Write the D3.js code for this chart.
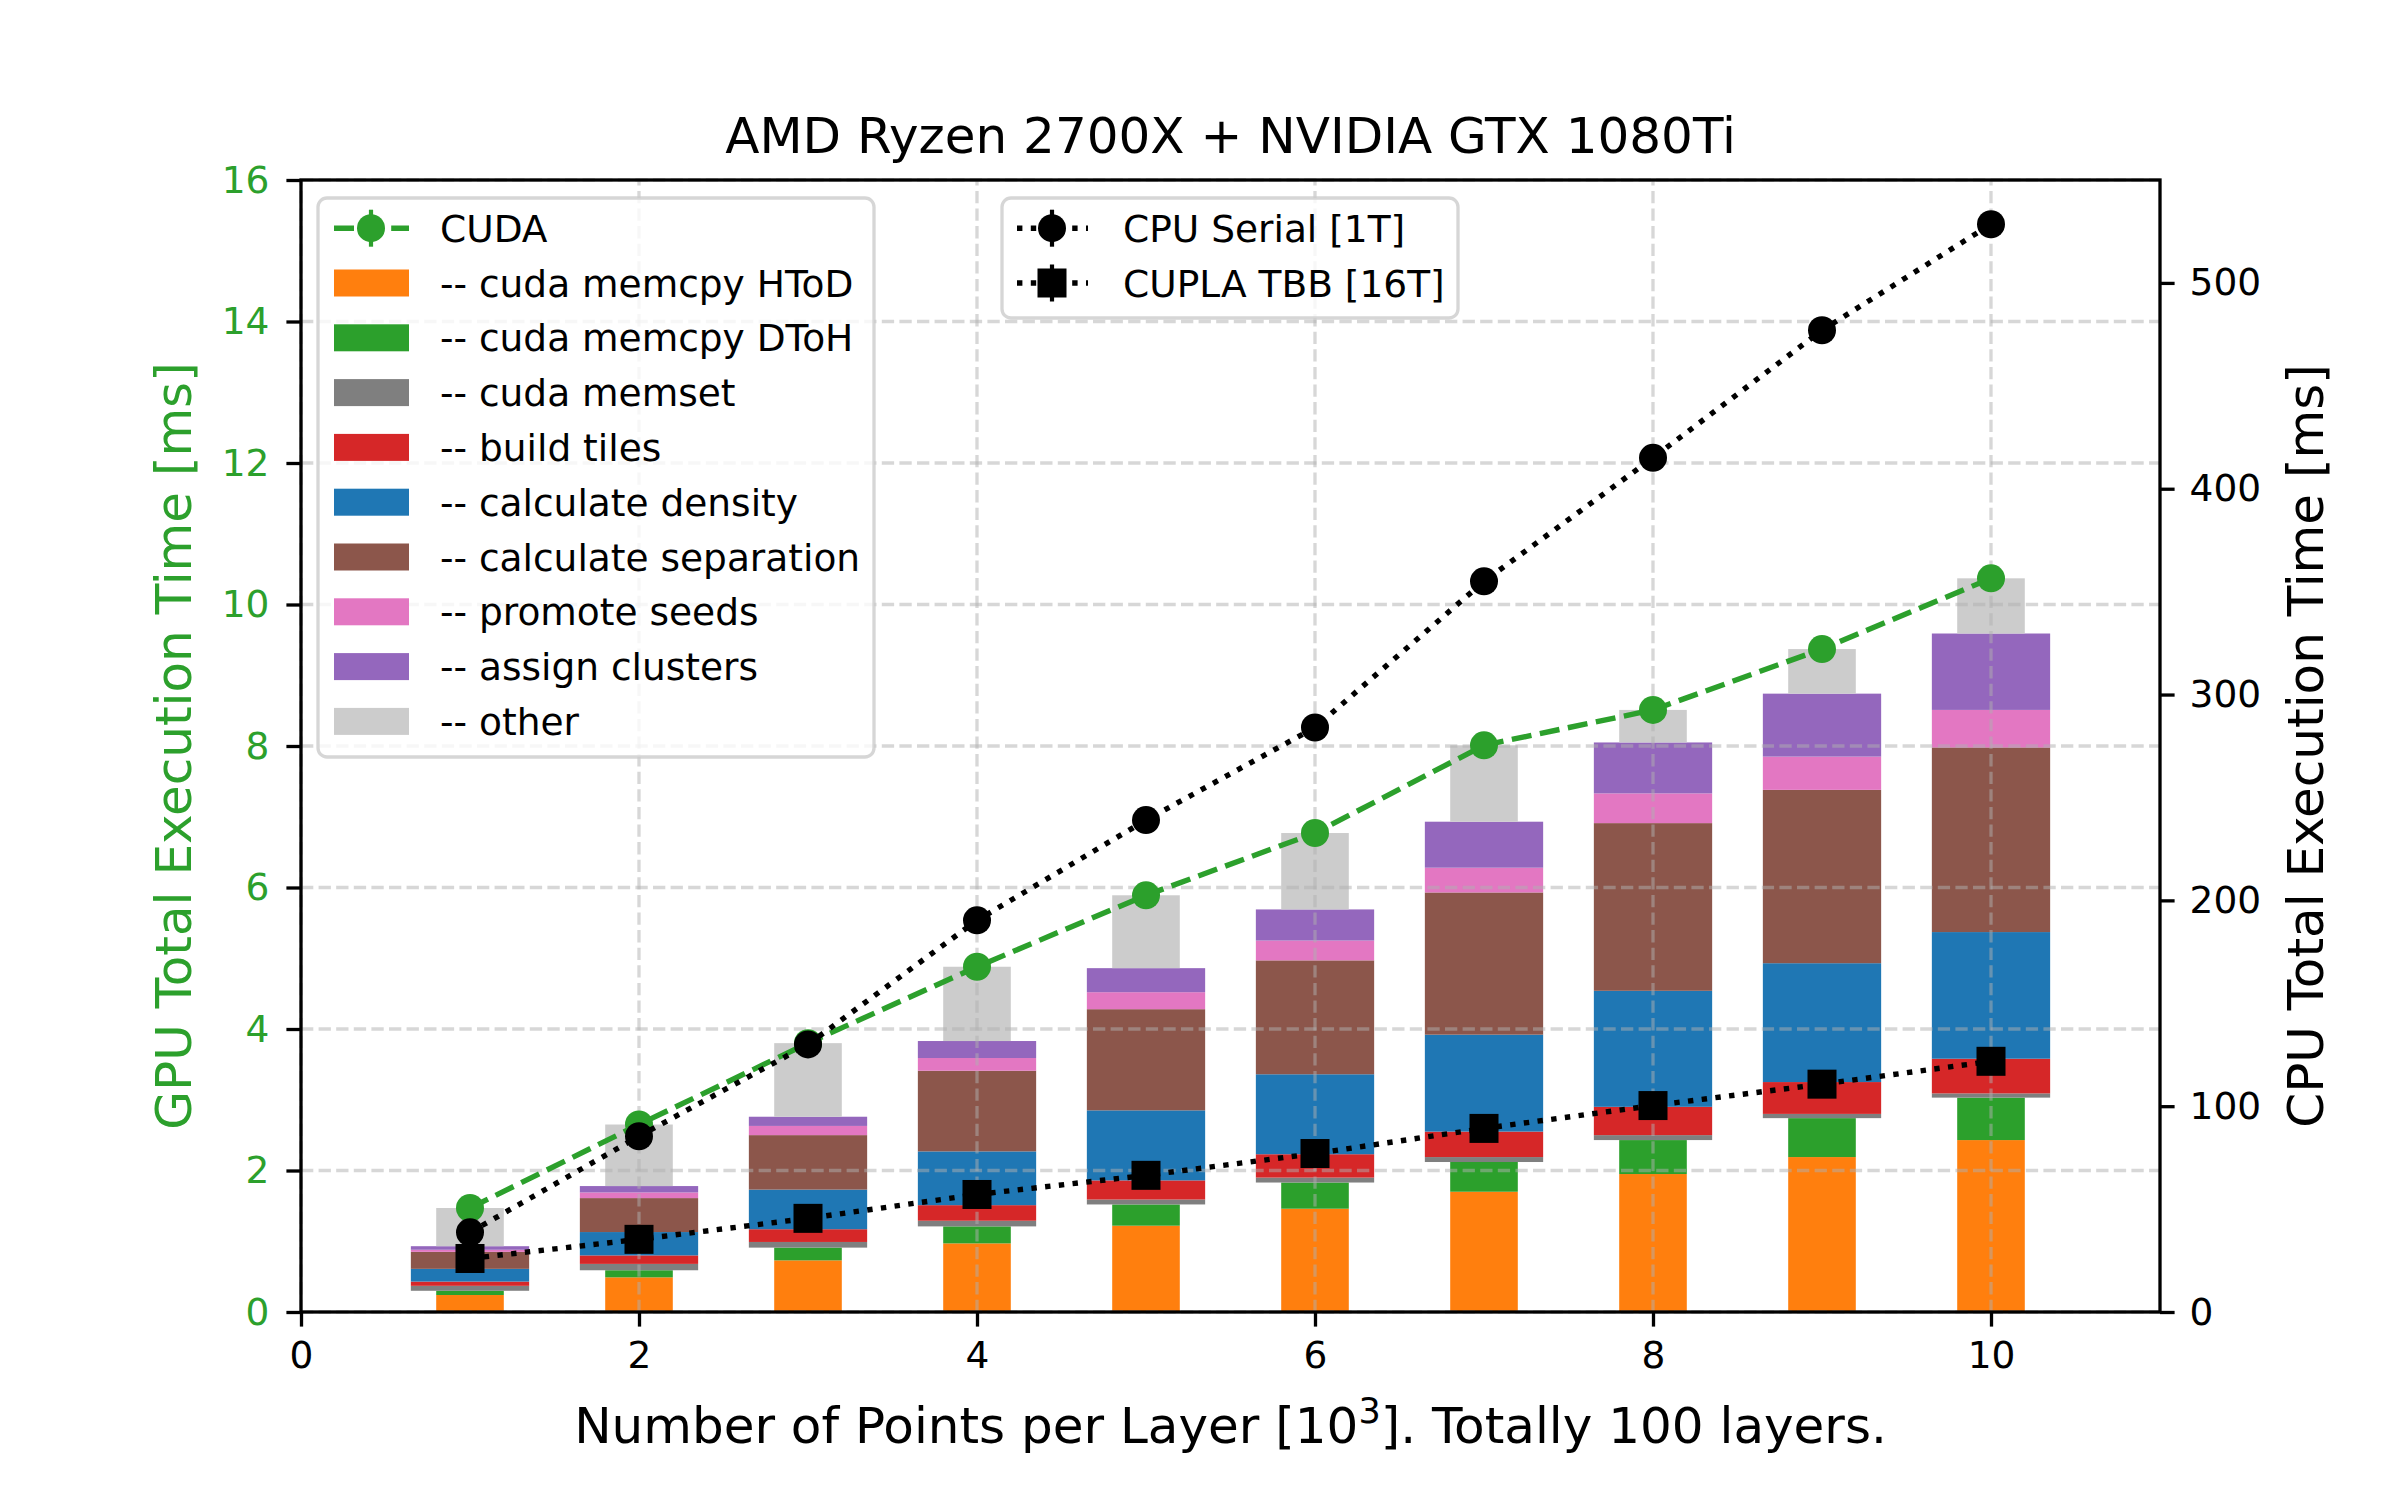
<!DOCTYPE html>
<html>
<head>
<meta charset="utf-8">
<script src="https://cdn.jsdelivr.net/npm/d3@7"></script>
<style>
  html, body { margin: 0; padding: 0; background: #fff; }
  svg text { font-family: "DejaVu Sans", sans-serif; }
</style>
</head>
<body>
<svg id="chart" width="2400" height="1500"></svg>
<script>
// ---------------- data ----------------
const points = [1, 2, 3, 4, 5, 6, 7, 8, 9, 10];
const htod = [0.24, 0.49, 0.73, 0.97, 1.22, 1.46, 1.70, 1.95, 2.19, 2.43];
const dtoh = [0.06, 0.10, 0.18, 0.24, 0.30, 0.37, 0.42, 0.48, 0.55, 0.60];
const memset = [0.07, 0.09, 0.08, 0.08, 0.07, 0.07, 0.07, 0.07, 0.06, 0.06];
const buildTiles = [0.06, 0.12, 0.18, 0.22, 0.27, 0.33, 0.36, 0.40, 0.45, 0.49];
const calcDensity = [0.18, 0.33, 0.56, 0.76, 0.99, 1.13, 1.37, 1.64, 1.68, 1.79];
const calcSeparation = [0.24, 0.48, 0.77, 1.14, 1.43, 1.61, 2.01, 2.37, 2.45, 2.61];
const promoteSeeds = [0.03, 0.08, 0.13, 0.18, 0.24, 0.28, 0.35, 0.42, 0.47, 0.53];
const assignClusters = [0.05, 0.09, 0.13, 0.24, 0.34, 0.44, 0.65, 0.72, 0.89, 1.08];
const other = [0.54, 0.87, 1.04, 1.05, 1.03, 1.08, 1.08, 0.46, 0.63, 0.78];
const cudaTotal = [1.47, 2.65, 3.80, 4.88, 5.89, 6.77, 8.01, 8.51, 9.37, 10.37];
const cpuSerial = [38.7, 85.4, 130, 190.3, 239, 284, 355, 415, 477, 528.5];
const cuplaTbb = [26, 35.3, 45.5, 57.1, 66.4, 77, 89.2, 100.3, 110.7, 121.8];

const segKeys = ["htod", "dtoh", "memset", "build", "density", "separation", "promote", "assign", "other"];
const segLabels = ["-- cuda memcpy HToD", "-- cuda memcpy DToH", "-- cuda memset", "-- build tiles",
  "-- calculate density", "-- calculate separation", "-- promote seeds", "-- assign clusters", "-- other"];
const segColors = ["#ff7f0e", "#2ca02c", "#7f7f7f", "#d62728", "#1f77b4", "#8c564b", "#e377c2", "#9467bd", "#cccccc"];
const segWidths = [0.4, 0.4, 0.7, 0.7, 0.7, 0.7, 0.7, 0.7, 0.4];

const xTicks = [0, 2, 4, 6, 8, 10];
const yTicks = [0, 2, 4, 6, 8, 10, 12, 14, 16];
const y2Ticks = [0, 100, 200, 300, 400, 500];

// ---------------- layout ----------------
const L = 301, R = 2160, T = 180, B = 1312;
const GREEN = "#2ca02c";
const FS_TICK = 37.5, FS_LABEL = 50;
const LW = 5.4;
const DASH = "20,8.6";
const DOT = "5.4,8.4";

const svg = d3.select("#chart");
const x = d3.scaleLinear().domain([0, 11]).range([L, R]);
const y = d3.scaleLinear().domain([0, 16]).range([B, T]);
const y2 = d3.scaleLinear().domain([0, 550]).range([B, T]);

// table for stacking
const table = points.map((p, i) => ({
  p, htod: htod[i], dtoh: dtoh[i], memset: memset[i], build: buildTiles[i],
  density: calcDensity[i], separation: calcSeparation[i], promote: promoteSeeds[i],
  assign: assignClusters[i], other: other[i]
}));
const stacked = d3.stack().keys(segKeys)(table);

// ---------------- bars ----------------
const gBars = svg.append("g");
stacked.forEach((layer, k) => {
  const w = segWidths[k];
  gBars.append("g").attr("fill", segColors[k])
    .selectAll("rect").data(layer).enter().append("rect")
    .attr("x", d => x(d.data.p - w / 2))
    .attr("width", d => x(w) - x(0))
    .attr("y", d => y(d[1]))
    .attr("height", d => y(d[0]) - y(d[1]));
});

// ---------------- grid (over bars) ----------------
const gGrid = svg.append("g").attr("stroke", "#b0b0b0").attr("stroke-opacity", 0.5)
  .attr("stroke-width", 3.3).attr("stroke-dasharray", "12.3,5.3");
xTicks.forEach(t => gGrid.append("line").attr("x1", x(t)).attr("x2", x(t)).attr("y1", B).attr("y2", T));
yTicks.forEach(t => gGrid.append("line").attr("x1", L).attr("x2", R).attr("y1", y(t)).attr("y2", y(t)));

// ---------------- CUDA line ----------------
const lineCuda = d3.line().x((d, i) => x(points[i])).y(d => y(d));
svg.append("path").datum(cudaTotal).attr("d", lineCuda)
  .attr("fill", "none").attr("stroke", GREEN).attr("stroke-width", LW)
  .attr("stroke-dasharray", DASH);
svg.append("g").selectAll("circle").data(cudaTotal).enter().append("circle")
  .attr("cx", (d, i) => x(points[i])).attr("cy", d => y(d)).attr("r", 14).attr("fill", GREEN);

// ---------------- CPU lines ----------------
const line2 = d3.line().x((d, i) => x(points[i])).y(d => y2(d));
svg.append("path").datum(cpuSerial).attr("d", line2)
  .attr("fill", "none").attr("stroke", "#000").attr("stroke-width", LW)
  .attr("stroke-dasharray", DOT);
svg.append("g").selectAll("circle").data(cpuSerial).enter().append("circle")
  .attr("cx", (d, i) => x(points[i])).attr("cy", d => y2(d)).attr("r", 14).attr("fill", "#000");
svg.append("path").datum(cuplaTbb).attr("d", line2)
  .attr("fill", "none").attr("stroke", "#000").attr("stroke-width", LW)
  .attr("stroke-dasharray", DOT);
svg.append("g").selectAll("rect").data(cuplaTbb).enter().append("rect")
  .attr("x", (d, i) => x(points[i]) - 14.5).attr("y", d => y2(d) - 14.5)
  .attr("width", 29).attr("height", 29).attr("fill", "#000");

// ---------------- axes ----------------
function styleAxis(g, color) {
  g.select(".domain").remove();
  g.selectAll(".tick line").attr("stroke", "#000").attr("stroke-width", 3.3);
  g.selectAll(".tick text").attr("fill", color).style("font-size", FS_TICK + "px")
    .style("font-family", "DejaVu Sans");
}
const gx = svg.append("g").attr("transform", `translate(0,${B})`)
  .call(d3.axisBottom(x).tickValues(xTicks).tickSize(14.6).tickPadding(14.6).tickFormat(d3.format("d")));
styleAxis(gx, "#000");
const gy = svg.append("g").attr("transform", `translate(${L},0)`)
  .call(d3.axisLeft(y).tickValues(yTicks).tickSize(14.6).tickPadding(17).tickFormat(d3.format("d")));
styleAxis(gy, GREEN);
const gy2 = svg.append("g").attr("transform", `translate(${R},0)`)
  .call(d3.axisRight(y2).tickValues(y2Ticks).tickSize(14.6).tickPadding(15).tickFormat(d3.format("d")));
styleAxis(gy2, "#000");

// frame
svg.append("rect").attr("x", L).attr("y", T).attr("width", R - L).attr("height", B - T)
  .attr("fill", "none").attr("stroke", "#000").attr("stroke-width", 3.3);

// ---------------- texts ----------------
svg.append("text").attr("x", (L + R) / 2).attr("y", 153).attr("text-anchor", "middle")
  .style("font-size", FS_LABEL + "px").text("AMD Ryzen 2700X + NVIDIA GTX 1080Ti");

const xl = svg.append("text").attr("x", (L + R) / 2).attr("y", 1443).attr("text-anchor", "middle")
  .style("font-size", FS_LABEL + "px");
xl.append("tspan").text("Number of Points per Layer [10");
xl.append("tspan").attr("dy", -20).style("font-size", "35px").text("3");
xl.append("tspan").attr("dy", 20).text("]. Totally 100 layers.");

svg.append("text").attr("transform", `translate(191,${(T + B) / 2}) rotate(-90)`)
  .attr("text-anchor", "middle").attr("fill", GREEN).style("font-size", FS_LABEL + "px")
  .text("GPU Total Execution Time [ms]");
svg.append("text").attr("transform", `translate(2323,${(T + B) / 2}) rotate(-90)`)
  .attr("text-anchor", "middle").attr("fill", "#000").style("font-size", FS_LABEL + "px")
  .text("CPU Total Execution Time [ms]");

// ---------------- legend 1 ----------------
const lg1 = svg.append("g");
lg1.append("rect").attr("x", 318).attr("y", 198).attr("width", 556).attr("height", 559)
  .attr("rx", 9).attr("fill", "#fff").attr("fill-opacity", 0.8)
  .attr("stroke", "#cccccc").attr("stroke-opacity", 0.8).attr("stroke-width", 3.3);
const legY0 = 228.2, legDy = 54.8;
// CUDA handle
lg1.append("line").attr("x1", 334).attr("x2", 409).attr("y1", legY0).attr("y2", legY0)
  .attr("stroke", GREEN).attr("stroke-width", LW).attr("stroke-dasharray", DASH);
lg1.append("line").attr("x1", 371).attr("x2", 371).attr("y1", legY0 - 18.5).attr("y2", legY0 + 18.5)
  .attr("stroke", GREEN).attr("stroke-width", 4.2);
lg1.append("circle").attr("cx", 371).attr("cy", legY0).attr("r", 14).attr("fill", GREEN);
lg1.append("text").attr("x", 440).attr("y", legY0).attr("dy", "0.36em")
  .style("font-size", FS_TICK + "px").text("CUDA");
segLabels.forEach((lab, k) => {
  const cy = legY0 + legDy * (k + 1);
  lg1.append("rect").attr("x", 334).attr("y", cy - 13.5).attr("width", 75).attr("height", 27)
    .attr("fill", segColors[k]);
  lg1.append("text").attr("x", 440).attr("y", cy).attr("dy", "0.36em")
    .style("font-size", FS_TICK + "px").text(lab);
});

// ---------------- legend 2 ----------------
const lg2 = svg.append("g");
lg2.append("rect").attr("x", 1002).attr("y", 198).attr("width", 456).attr("height", 120)
  .attr("rx", 9).attr("fill", "#fff").attr("fill-opacity", 0.8)
  .attr("stroke", "#cccccc").attr("stroke-opacity", 0.8).attr("stroke-width", 3.3);
const leg2 = [{ label: "CPU Serial [1T]", shape: "circle" }, { label: "CUPLA TBB [16T]", shape: "square" }];
leg2.forEach((e, k) => {
  const cy = 228.2 + 54.8 * k;
  lg2.append("line").attr("x1", 1017).attr("x2", 1088).attr("y1", cy).attr("y2", cy)
    .attr("stroke", "#000").attr("stroke-width", LW).attr("stroke-dasharray", DOT);
  lg2.append("line").attr("x1", 1052).attr("x2", 1052).attr("y1", cy - 18.5).attr("y2", cy + 18.5)
    .attr("stroke", "#000").attr("stroke-width", 4.2);
  if (e.shape === "circle") {
    lg2.append("circle").attr("cx", 1052).attr("cy", cy).attr("r", 14).attr("fill", "#000");
  } else {
    lg2.append("rect").attr("x", 1052 - 14.5).attr("y", cy - 14.5).attr("width", 29).attr("height", 29).attr("fill", "#000");
  }
  lg2.append("text").attr("x", 1123).attr("y", cy).attr("dy", "0.36em")
    .style("font-size", FS_TICK + "px").text(e.label);
});
</script>
</body>
</html>
